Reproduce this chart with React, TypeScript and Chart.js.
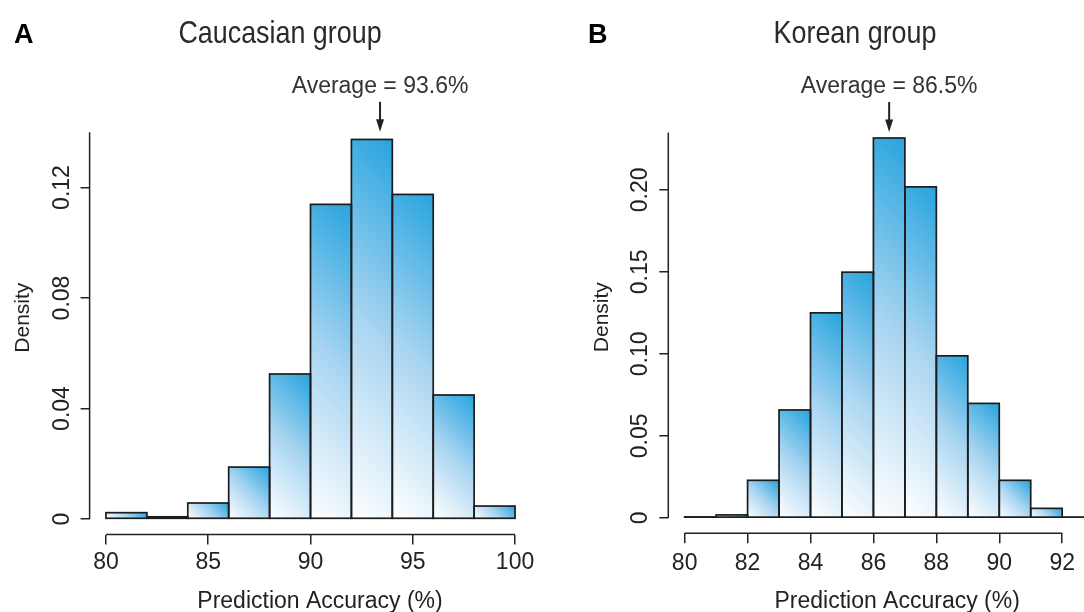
import React, { useEffect, useRef } from "react";
import { Chart, registerables } from "chart.js";

Chart.register(...registerables);

// ---------- Data: Panel A (Caucasian group) ----------
const binStartsA = [80, 82, 84, 86, 88, 90, 92, 94, 96, 98];
const binWidthA = 2;
const densityA = [0.0023, 0.0008, 0.0058, 0.0188, 0.0525, 0.1139, 0.1374, 0.1175, 0.0449, 0.0047];
const xTicksA = [80, 85, 90, 95, 100];
const xTickLabelsA = ["80", "85", "90", "95", "100"];
const yTicksA = [0, 0.04, 0.08, 0.12];
const yTickLabelsA = ["0", "0.04", "0.08", "0.12"];
const xLimA = [80, 100];
const yLimA = [0, 0.14];
const xAxisEndA = 100;
const avgLabelA = "Average = 93.6%";
const avgArrowA = 93.4;

// ---------- Data: Panel B (Korean group) ----------
const binStartsB = [80, 81, 82, 83, 84, 85, 86, 87, 88, 89, 90, 91, 92];
const binWidthB = 1;
const densityB = [0.0006, 0.0018, 0.0229, 0.0658, 0.125, 0.1498, 0.2316, 0.2018, 0.0988, 0.0698, 0.0229, 0.0058, 0.0005];
const xTicksB = [80, 82, 84, 86, 88, 90, 92];
const xTickLabelsB = ["80", "82", "84", "86", "88", "90", "92"];
const yTicksB = [0, 0.05, 0.1, 0.15, 0.2];
const yTickLabelsB = ["0", "0.05", "0.10", "0.15", "0.20"];
const xLimB = [80, 93];
const yLimB = [0, 0.235];
const xAxisEndB = 92;
const avgLabelB = "Average = 86.5%";
const avgArrowB = 86.5;

const xAxisTitle = "Prediction Accuracy (%)";
const yAxisTitle = "Density";

const FONT = '"Liberation Sans", Arimo, Arial, Helvetica, sans-serif';
const INK = "#222222";

type PanelCfg = {
  letter: string;
  title: string;
  starts: number[];
  width: number;
  dens: number[];
  xTicks: number[];
  xLabels: string[];
  yTicks: number[];
  yLabels: string[];
  xLim: number[];
  yLim: number[];
  xAxisEnd: number;
  avgLabel: string;
  avgX: number;
  // layout (pixels)
  canvasX: number;
  canvasW: number;
  yAxisW: number;
  padRight: number;
  padTop: number;
  xAxisH: number;
  titleX: number;
  yTickPad: number;
  xTickPad: number;
  xTitleShift: number;
  yTitleX: number;
  letterX: number;
};

const panels: PanelCfg[] = [
  {
    letter: "A",
    title: "Caucasian group",
    starts: binStartsA,
    width: binWidthA,
    dens: densityA,
    xTicks: xTicksA,
    xLabels: xTickLabelsA,
    yTicks: yTicksA,
    yLabels: yTickLabelsA,
    xLim: xLimA,
    yLim: yLimA,
    xAxisEnd: xAxisEndA,
    avgLabel: avgLabelA,
    avgX: avgArrowA,
    canvasX: 0,
    canvasW: 560,
    yAxisW: 89.6,
    padRight: 28.6,
    padTop: 116.8,
    xAxisH: 77.5,
    titleX: 280,
    yTickPad: -4.8,
    xTickPad: 4.5,
    xTitleShift: 9.5,
    yTitleX: 29,
    letterX: 14,
  },
  {
    letter: "B",
    title: "Korean group",
    starts: binStartsB,
    width: binWidthB,
    dens: densityB,
    xTicks: xTicksB,
    xLabels: xTickLabelsB,
    yTicks: yTicksB,
    yLabels: yTickLabelsB,
    xLim: xLimB,
    yLim: yLimB,
    xAxisEnd: xAxisEndB,
    avgLabel: avgLabelB,
    avgX: avgArrowB,
    canvasX: 560,
    canvasW: 590,
    yAxisW: 108.3,
    padRight: 40,
    padTop: 117,
    xAxisH: 78.7,
    titleX: 295,
    yTickPad: -4,
    xTickPad: 7,
    xTitleShift: 8,
    yTitleX: 48,
    letterX: 28,
  },
];

function makeConfig(p: PanelCfg): any {
  const xr = p.xLim[1] - p.xLim[0];
  const yr = p.yLim[1] - p.yLim[0];
  const xMin = p.xLim[0] - 0.04 * xr;
  const xMax = p.xLim[1] + 0.04 * xr;
  const yMin = p.yLim[0] - 0.04 * yr;
  const yMax = p.yLim[1] + 0.04 * yr;

  const rStyle = {
    id: "rStyle",
    afterDatasetsDraw(chart: any) {
      // R-style bar outlines, centred on the bin edges
      const { ctx } = chart;
      const meta = chart.getDatasetMeta(0);
      ctx.save();
      ctx.strokeStyle = "#1c1c1c";
      ctx.lineWidth = 1.7;
      ctx.lineJoin = "miter";
      meta.data.forEach((el: any) => {
        const { x, y, base, width } = el.getProps(["x", "y", "base", "width"], true);
        ctx.strokeRect(x - width / 2, y, width, base - y);
      });
      ctx.restore();
    },
    afterDraw(chart: any) {
      const { ctx, chartArea, scales } = chart;
      const x = scales.x;
      const y = scales.y;
      ctx.save();
      ctx.strokeStyle = INK;
      ctx.fillStyle = INK;
      ctx.lineWidth = 1.5;
      // y axis line
      ctx.beginPath();
      ctx.moveTo(chartArea.left, y.getPixelForValue(p.yLim[0]));
      ctx.lineTo(chartArea.left, y.getPixelForValue(p.yLim[1]));
      ctx.stroke();
      // x axis line
      ctx.beginPath();
      ctx.moveTo(x.getPixelForValue(p.xTicks[0]), chartArea.bottom);
      ctx.lineTo(x.getPixelForValue(p.xAxisEnd), chartArea.bottom);
      ctx.stroke();
      // axis titles
      ctx.font = `23px ${FONT}`;
      ctx.textAlign = "center";
      ctx.textBaseline = "alphabetic";
      ctx.fillText(xAxisTitle, (chartArea.left + chartArea.right) / 2 + p.xTitleShift, 608);
      ctx.save();
      ctx.translate(p.yTitleX, (chartArea.top + chartArea.bottom) / 2 - 8);
      ctx.rotate(-Math.PI / 2);
      ctx.font = `21px ${FONT}`;
      ctx.fillText(yAxisTitle, 0, 0);
      ctx.restore();
      // average arrow
      const ax = x.getPixelForValue(p.avgX);
      const top = chartArea.top;
      ctx.lineWidth = 2;
      ctx.beginPath();
      ctx.moveTo(ax, top - 15);
      ctx.lineTo(ax, top + 4);
      ctx.stroke();
      ctx.beginPath();
      ctx.moveTo(ax - 4, top + 2.5);
      ctx.lineTo(ax + 4, top + 2.5);
      ctx.lineTo(ax, top + 15);
      ctx.closePath();
      ctx.fill();
      // average label
      ctx.font = `23px ${FONT}`;
      ctx.textAlign = "center";
      ctx.fillStyle = "#333333";
      ctx.fillText(p.avgLabel, ax, top - 24);
      // panel title (condensed Helvetica look)
      ctx.save();
      ctx.translate(p.titleX, 43);
      ctx.scale(0.84, 1);
      ctx.font = `32px ${FONT}`;
      ctx.fillStyle = "#2a2a2a";
      ctx.textAlign = "center";
      ctx.fillText(p.title, 0, 0);
      ctx.restore();
      // panel letter
      ctx.fillStyle = "#000000";
      ctx.font = `bold 27px ${FONT}`;
      ctx.textAlign = "left";
      ctx.fillText(p.letter, p.letterX, 43);
      ctx.restore();
    },
  };

  const bg = (c: any) => {
    const chart = c.chart;
    if (c.type !== "data" || !chart.chartArea) return "#7cc3ea";
    const x = chart.scales.x;
    const y = chart.scales.y;
    const i = c.dataIndex;
    const x0 = x.getPixelForValue(p.starts[i]);
    const x1 = x.getPixelForValue(p.starts[i] + p.width);
    const yb = y.getPixelForValue(0);
    const yt = y.getPixelForValue(p.dens[i]);
    const w = x1 - x0;
    const h = yb - yt;
    if (h < 1) return "#4fb0e3";
    const L = (w + h) / 2;
    const g = chart.ctx.createLinearGradient(x0, yb, x0 + L, yb - L);
    g.addColorStop(0, "#ffffff");
    g.addColorStop(0.5, "#a9d5f1");
    g.addColorStop(1, "#27a4de");
    return g;
  };

  return {
    type: "bar",
    data: {
      datasets: [
        {
          data: p.starts.map((s, i) => ({ x: s + p.width / 2, y: p.dens[i] })),
          backgroundColor: bg,
          borderWidth: 0,
          borderSkipped: false,
          inflateAmount: 0,
          barPercentage: 1,
          categoryPercentage: 1,
        },
      ],
    },
    options: {
      responsive: false,
      animation: false,
      devicePixelRatio: 1,
      layout: { padding: { left: 0, right: p.padRight, top: p.padTop, bottom: 0 } },
      plugins: {
        legend: { display: false },
        tooltip: { enabled: false },
        title: { display: false },
      },
      scales: {
        x: {
          type: "linear",
          min: xMin,
          max: xMax,
          bounds: "data",
          offset: false,
          grid: {
            display: true,
            offset: false,
            drawOnChartArea: false,
            drawTicks: true,
            tickLength: 10,
            color: INK,
            lineWidth: 1.5,
          },
          border: { display: false },
          ticks: {
            autoSkip: false,
            maxRotation: 0,
            minRotation: 0,
            color: INK,
            padding: p.xTickPad,
            font: { family: FONT, size: 23 },
            callback: (_v: any, i: number) => p.xLabels[i],
          },
          afterBuildTicks: (s: any) => {
            s.ticks = p.xTicks.map((v) => ({ value: v }));
          },
          afterFit: (s: any) => {
            s.height = p.xAxisH;
          },
          title: { display: false },
        },
        y: {
          type: "linear",
          min: yMin,
          max: yMax,
          bounds: "data",
          grid: {
            display: true,
            drawOnChartArea: false,
            drawTicks: true,
            tickLength: 9,
            color: INK,
            lineWidth: 1.5,
          },
          border: { display: false },
          ticks: {
            autoSkip: false,
            minRotation: 90,
            maxRotation: 90,
            crossAlign: "center",
            color: INK,
            padding: p.yTickPad,
            font: { family: FONT, size: 23 },
            callback: (_v: any, i: number) => p.yLabels[i],
          },
          afterBuildTicks: (s: any) => {
            s.ticks = p.yTicks.map((v) => ({ value: v }));
          },
          afterFit: (s: any) => {
            s.width = p.yAxisW;
          },
          title: { display: false },
        },
      },
    },
    plugins: [rStyle],
  };
}

function Panel({ cfg }: { cfg: PanelCfg }) {
  const ref = useRef<HTMLCanvasElement>(null);
  useEffect(() => {
    if (!ref.current) return;
    const chart = new Chart(ref.current, makeConfig(cfg));
    return () => chart.destroy();
  }, [cfg]);
  return (
    <canvas
      ref={ref}
      width={cfg.canvasW}
      height={612}
      style={{ position: "absolute", left: cfg.canvasX, top: 0, width: cfg.canvasW, height: 612 }}
    />
  );
}

export default function App() {
  return (
    <div
      style={{
        position: "absolute",
        left: 0,
        top: 0,
        width: 1084,
        height: 612,
        overflow: "hidden",
        background: "#ffffff",
      }}
    >
      {panels.map((p) => (
        <Panel key={p.letter} cfg={p} />
      ))}
    </div>
  );
}
